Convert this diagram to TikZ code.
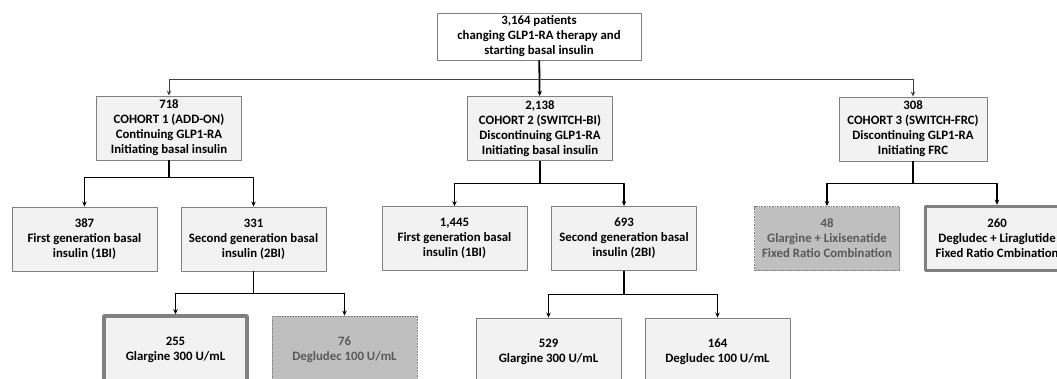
\documentclass[tikz,border=0pt]{standalone}
\usepackage{fontspec}
\setmainfont{Carlito}
\usetikzlibrary{arrows.meta}
\definecolor{boxfill}{HTML}{F2F2F2}
\definecolor{boxline}{HTML}{808080}
\definecolor{darkfill}{HTML}{BFBFBF}
\definecolor{darktext}{HTML}{595959}
\begin{document}
\begin{tikzpicture}[x=1pt, y=-1pt, line join=round, >={Stealth[length=5pt,width=4.5pt]},
	font=\fontsize{12.8}{15}\selectfont\bfseries,
	box/.style={draw=boxline, fill=boxfill, line width=0.9pt, align=center, minimum width=145pt, minimum height=64pt, inner sep=1pt},
	topbox/.style={box, fill=white, minimum width=204pt, minimum height=47pt},
	bigbox/.style={box, line width=3.5pt, minimum width=143pt},
	greybox/.style={box, fill=darkfill, dash pattern=on 0.8pt off 0.8pt, text=darktext},
	tree/.style={line width=1.8pt},
	thinline/.style={draw=black!75, line width=0.8pt}]
	\useasboundingbox (0,0) rectangle (1057,378);
	\def\hB{68} % Chiều cao hộp dưới
	% hàng trên
	\node[topbox] (top) at (539,36.5) {3,164 patients\\changing GLP1-RA therapy and\\starting basal insulin};
	\node[box] (c1) at (169,128) {718\\COHORT 1 (ADD-ON)\\Continuing GLP1-RA\\Initiating basal insulin};
	\node[box] (c2) at (540,128.5) {2,138\\COHORT 2 (SWITCH-BI)\\Discontinuing GLP1-RA\\Initiating basal insulin};
	\node[box, minimum width=148pt] (c3) at (913,129) {308\\COHORT 3 (SWITCH-FRC)\\Discontinuing GLP1-RA\\Initiating FRC};
	% hàng giữa
	\node[box] (b387) at (84.5,239) {387\\First generation basal\\insulin (1BI)};
	\node[box] (b331) at (253.5,239) {331\\Second generation basal\\insulin (2BI)};
	\node[box] (b1445) at (454.5,238.5) {1,445\\First generation basal\\insulin (1BI)};
	\node[box] (b693) at (624,238.5) {693\\Second generation basal\\insulin (2BI)};
	\node[greybox] (b48) at (827,238.5) {48\\Glargine + Lixisenatide\\Fixed Ratio Combination};
	\node[bigbox] (b260) at (997,238.5) {260\\Degludec + Liraglutide\\Fixed Ratio Cmbination};
	% hàng dưới
	\node[bigbox, minimum height=\hB] (b255) at (175.5,350) {255\\Glargine 300 U/mL};
	\node[greybox, minimum height=\hB] (b76) at (344.5,350) {76\\Degludec 100 U/mL};
	\node[box, minimum height=\hB] (b529) at (548.5,352) {529\\Glargine 300 U/mL};
	\node[box, minimum height=\hB] (b164) at (717.5,352) {164\\Degludec 100 U/mL};
	% đường nối
	\coordinate (split) at (539,79);
	\draw[tree,->] (top) -- (c2);
	\draw[thinline,->] (split) -| (c1.north);
	\draw[thinline,->] (split) -| (c3.north);
	\draw[tree] (c1.south) -- ++(0,17) coordinate (j1);
	\draw[tree] (c2.south) -- ++(0,22.5) coordinate (j2);
	\draw[tree] (c3.south) -- ++(0,22) coordinate (j3);
	\draw[tree] (b331.south) -- ++(0,22) coordinate (j4);
	\draw[tree] (b693.south) -- ++(0,23.5) coordinate (j5);
	\foreach \j/\a/\b in {j1/b387/b331, j2/b1445/b693, j3/b48/b260, j4/b255/b76, j5/b529/b164}{
		\draw[tree,->] (\j) -| (\a.north);
		\draw[tree,->] (\j) -| (\b.north);
	}
\end{tikzpicture}
\end{document}
